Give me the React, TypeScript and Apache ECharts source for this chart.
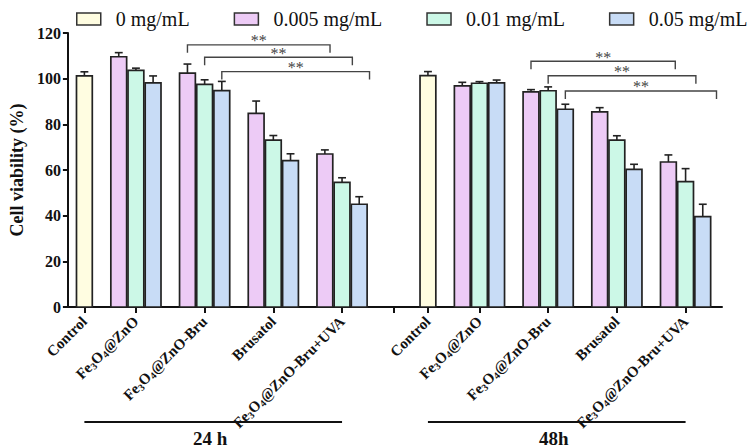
import React, { useEffect, useRef } from 'react';
import * as echarts from 'echarts';

// ---------- data ----------
const timepoints = ['24 h', '48h'];
const groups = ['Control', 'Fe3O4@ZnO', 'Fe3O4@ZnO-Bru', 'Brusatol', 'Fe3O4@ZnO-Bru+UVA'];
const concentrations = ['0 mg/mL', '0.005 mg/mL', '0.01 mg/mL', '0.05 mg/mL'];

// index: [24h: Control, Fe3O4@ZnO, Fe3O4@ZnO-Bru, Brusatol, +UVA, 48h: same order]
const mean0 = [101.2, null, null, null, null, 101.3, null, null, null, null];
const sd0 = [1.8, null, null, null, null, 1.8, null, null, null, null];
const mean0005 = [null, 109.6, 102.4, 84.8, 67.0, null, 96.8, 94.2, 85.5, 63.5];
const sd0005 = [null, 1.8, 4.0, 5.4, 1.8, null, 1.6, 1.0, 1.8, 3.1];
const mean001 = [null, 103.6, 97.5, 73.1, 54.6, null, 98.0, 94.7, 73.1, 54.9];
const sd001 = [null, 1.0, 2.0, 2.0, 2.0, null, 0.7, 1.7, 1.9, 5.7];
const mean005 = [null, 98.2, 94.8, 64.1, 45.0, null, 98.2, 86.6, 60.3, 39.6];
const sd005 = [null, 3.0, 4.0, 3.0, 3.3, null, 1.2, 2.2, 2.2, 5.4];

const yTicks = [0, 20, 40, 60, 80, 100, 120];

// significance brackets: [timepoint, from concentration (group Fe3O4@ZnO-Bru), end slot, level]
const bracketTime = [0, 0, 0, 1, 1, 1];
const bracketFromConc = [1, 2, 3, 1, 2, 3];
const bracketEndSlot = [14.3, 15.6, 16.6, 14.4, 15.6, 16.8];
const bracketLevel = [114.8, 109.4, 103.1, 107.6, 101.3, 94.6];
const bracketMark = ['**', '**', '**', '**', '**', '**'];

// ---------- layout helpers ----------
const SLOTS_PER_TIME = 20;
function slotOf(t: number, g: number, c: number) {
  if (g === 0) return t * SLOTS_PER_TIME;
  return t * SLOTS_PER_TIME + 4 * g + c - 3;
}
function tickOf(t: number, g: number) {
  return g === 0 ? t * SLOTS_PER_TIME : t * SLOTS_PER_TIME + 4 * g - 1;
}

const colors = ['#FFFDE1', '#EDCBF6', '#CCF8E7', '#C8DCF6'];
const FONT = 'Liberation Serif';

function richLabel(name: string) {
  if (name.startsWith('Fe3O4')) {
    return '{b|Fe}{s|3}{b|O}{s|4}{b|' + name.slice(5) + '}';
  }
  return '{b|' + name + '}';
}

export default function App() {
  const ref = useRef<HTMLDivElement>(null);
  useEffect(() => {
    document.body.style.margin = '0';
    const chart = echarts.init(ref.current!, null, { renderer: 'svg' });

    const means = [mean0, mean0005, mean001, mean005];
    const sds = [sd0, sd0005, sd001, sd005];

    const labelMap: Record<number, string> = {};
    const labelValues: number[] = [];
    const tickValues: number[] = [];
    timepoints.forEach((_, t) => {
      groups.forEach((g, gi) => {
        const s = tickOf(t, gi);
        labelMap[s] = g;
        labelValues.push(s);
        tickValues.push(s);
      });
      if (t < timepoints.length - 1) tickValues.push((t + 1) * SLOTS_PER_TIME - 2);
    });
    tickValues.sort((a, b) => a - b);

    const barSeries = concentrations.map((name, c) => {
      const data: number[][] = [];
      means[c].forEach((m, i) => {
        if (m == null) return;
        const t = Math.floor(i / groups.length);
        const g = i % groups.length;
        data.push([slotOf(t, g, c), m, sds[c][i] as number]);
      });
      return {
        type: 'custom',
        name,
        silent: true,
        itemStyle: { color: colors[c], borderColor: '#222', borderWidth: 1.5 },
        encode: { x: 0, y: 1 },
        data,
        renderItem: (params: any, api: any) => {
          const x = api.value(0);
          const v = api.value(1);
          const e = api.value(2);
          const top = api.coord([x, v]);
          const base = api.coord([x, 0]);
          const errTop = api.coord([x, v + e]);
          const bw = api.size([1, 0])[0] * 0.92;
          const cap = bw * 0.5;
          return {
            type: 'group',
            children: [
              {
                type: 'rect',
                shape: { x: top[0] - bw / 2, y: top[1], width: bw, height: base[1] - top[1] },
                style: { fill: colors[c], stroke: '#222', lineWidth: 1.7 },
              },
              {
                type: 'line',
                shape: { x1: top[0], y1: top[1], x2: top[0], y2: errTop[1] },
                style: { stroke: '#222', lineWidth: 1.6 },
              },
              {
                type: 'line',
                shape: { x1: top[0] - cap / 2, y1: errTop[1], x2: top[0] + cap / 2, y2: errTop[1] },
                style: { stroke: '#222', lineWidth: 1.6 },
              },
            ],
          };
        },
      };
    });

    const bracketData = bracketTime.map((t, i) => [
      slotOf(t, 2, bracketFromConc[i]),
      t * SLOTS_PER_TIME + bracketEndSlot[i],
      bracketLevel[i],
    ]);

    const bracketSeries = {
      type: 'custom',
      name: 'sig',
      silent: true,
      clip: false,
      itemStyle: { color: '#444' },
      encode: { x: [0, 1], y: 2 },
      data: bracketData,
      renderItem: (params: any, api: any) => {
        const x1 = api.value(0);
        const x2 = api.value(1);
        const y = api.value(2);
        const a = api.coord([x1, y]);
        const b = api.coord([x2, y]);
        const drop = 8;
        return {
          type: 'group',
          children: [
            {
              type: 'polyline',
              shape: { points: [[a[0], a[1] + drop], [a[0], a[1]], [b[0], b[1]], [b[0], b[1] + drop]] },
              style: { stroke: '#444', lineWidth: 1.4, fill: 'none' },
            },
            {
              type: 'text',
              x: (a[0] + b[0]) / 2,
              y: a[1] + 4,
              style: {
                text: bracketMark[params.dataIndex],
                fill: '#444',
                fontSize: 16,
                fontFamily: FONT,
                textAlign: 'center',
                textVerticalAlign: 'bottom',
              },
            },
          ],
        };
      },
    };

    const timeData = timepoints.map((_, t) => [tickOf(t, 0), tickOf(t, groups.length - 1), 0]);
    const timeSeries = {
      type: 'custom',
      name: 'time',
      silent: true,
      clip: false,
      itemStyle: { color: '#111' },
      encode: { x: [0, 1], y: 2 },
      data: timeData,
      renderItem: (params: any, api: any) => {
        const a = api.coord([api.value(0), 0]);
        const b = api.coord([api.value(1), 0]);
        return {
          type: 'group',
          children: [
            {
              type: 'line',
              shape: { x1: a[0], y1: a[1] + 115, x2: b[0], y2: b[1] + 115 },
              style: { stroke: '#111', lineWidth: 2 },
            },
            {
              type: 'text',
              x: (a[0] + b[0]) / 2 - 3,
              y: a[1] + 131,
              style: {
                text: timepoints[params.dataIndex],
                fill: '#111',
                fontSize: 19,
                fontWeight: 'bold',
                fontFamily: FONT,
                textAlign: 'center',
                textVerticalAlign: 'middle',
              },
            },
          ],
        };
      },
    };

    chart.setOption({
      animation: false,
      backgroundColor: '#fff',
      textStyle: { fontFamily: FONT },
      legend: {
        data: concentrations,
        left: 71,
        top: 4,
        width: 690,
        icon: 'rect',
        itemWidth: 24,
        itemHeight: 12,
        itemGap: 44,
        itemStyle: { borderColor: '#333', borderWidth: 1.5 },
        textStyle: { fontSize: 20, fontFamily: FONT, color: '#111', padding: [0, 0, 0, 10] },
      },
      grid: { left: 62, right: 31, top: 33, bottom: 140 },
      xAxis: {
        type: 'value',
        min: -0.96,
        max: 37.12,
        splitLine: { show: false },
        axisLine: { show: true, onZero: false, lineStyle: { color: '#111', width: 2 } },
        axisTick: { show: true, customValues: tickValues, length: 6, lineStyle: { color: '#111', width: 2 } },
        axisLabel: {
          show: true,
          customValues: labelValues,
          rotate: 45,
          margin: 12,
          formatter: (v: number) => richLabel(labelMap[v] ?? ''),
          rich: {
            b: { fontSize: 15, fontWeight: 'bold', fontFamily: FONT, color: '#111', lineHeight: 17, verticalAlign: 'middle' },
            s: { fontSize: 10, fontWeight: 'bold', fontFamily: FONT, color: '#111', lineHeight: 10, verticalAlign: 'bottom' },
          },
        },
      },
      yAxis: {
        type: 'value',
        min: yTicks[0],
        max: yTicks[yTicks.length - 1],
        interval: yTicks[1] - yTicks[0],
        name: 'Cell viability (%)',
        nameLocation: 'middle',
        nameGap: 41,
        nameRotate: 90,
        nameTextStyle: { fontSize: 18, fontWeight: 'bold', fontFamily: FONT, color: '#111' },
        splitLine: { show: false },
        axisLine: { show: true, onZero: false, lineStyle: { color: '#111', width: 2 } },
        axisTick: { show: true, length: 5, lineStyle: { color: '#111', width: 2 } },
        axisLabel: { fontSize: 16, fontWeight: 'bold', fontFamily: FONT, color: '#111', margin: 7 },
      },
      series: [...barSeries, bracketSeries, timeSeries],
    });
    return () => chart.dispose();
  }, []);
  return <div ref={ref} style={{ width: 753, height: 447 }} />;
}
